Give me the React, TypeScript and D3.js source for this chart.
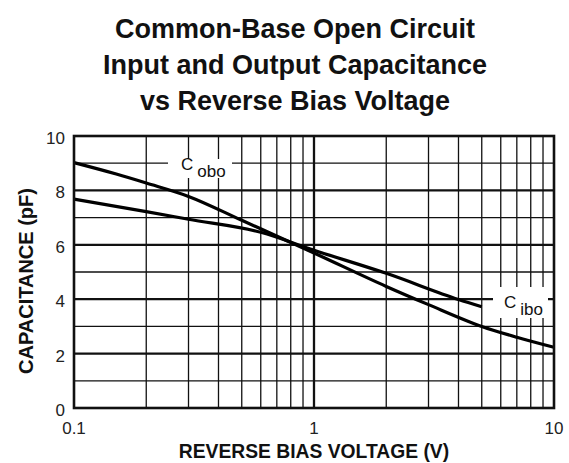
import React from "react";
import * as d3 from "d3";

const titleLines = ["Common-Base Open Circuit", "Input and Output Capacitance", "vs Reverse Bias Voltage"];
const xLabel = "REVERSE BIAS VOLTAGE (V)";
const yLabel = "CAPACITANCE (pF)";
const xTickLabels = [0.1, 1, 10];
const yTickLabels = [0, 2, 4, 6, 8, 10];

const coboV = [0.1, 0.15, 0.2, 0.3, 0.5, 1, 2, 3, 5, 7, 10];
const coboC = [9.02, 8.6, 8.27, 7.78, 6.9, 5.7, 4.47, 3.8, 3.0, 2.6, 2.23];
const ciboV = [0.1, 0.2, 0.3, 0.6, 1, 2, 4, 5];
const ciboC = [7.68, 7.22, 6.94, 6.46, 5.8, 4.95, 3.99, 3.72];

const W = 569, H = 463;
const L = 74, R = 554, T = 136, B = 408;

export default function App() {
  const x = d3.scaleLog().domain([0.1, 10]).range([L, R]);
  const y = d3.scaleLinear().domain([0, 10]).range([B, T]);
  const line = d3.line<[number, number]>().x(d => x(d[0])).y(d => y(d[1])).curve(d3.curveMonotoneX);
  const cobo = coboV.map((v, i) => [v, coboC[i]] as [number, number]);
  const cibo = ciboV.map((v, i) => [v, ciboC[i]] as [number, number]);

  const minorX: number[] = [];
  [0.1, 1].forEach(dec => { for (let k = 2; k <= 9; k++) minorX.push(dec * k); });
  const hY = d3.range(1, 10);

  const font = "'Liberation Sans', Arial, sans-serif";
  return (
    <svg width={W} height={H} style={{ display: "block", position: "absolute", left: 0, top: 0, background: "#fff" }} fontFamily={font}>
      <rect width={W} height={H} fill="#fff" />
      {titleLines.map((t, i) => (
        <text key={t} x={295} y={38 + i * 36} textAnchor="middle" fontSize={27} fontWeight="bold" fill="#111">{t}</text>
      ))}
      {minorX.map(v => (
        <line key={"vx" + v} x1={x(v)} x2={x(v)} y1={T} y2={B} stroke="#111" strokeWidth={1.3} />
      ))}
      <line x1={x(1)} x2={x(1)} y1={T} y2={B} stroke="#111" strokeWidth={2.3} />
      {hY.map(v => (
        <line key={"hy" + v} x1={L} x2={R} y1={y(v)} y2={y(v)} stroke="#111" strokeWidth={v % 2 === 0 ? 2.3 : 1.3} />
      ))}
      <rect x={168} y={159} width={64} height={19} fill="#fff" />
      <rect x={493} y={287} width={55} height={31} fill="#fff" />
      <path d={line(cobo) || ""} fill="none" stroke="#000" strokeWidth={3.2} />
      <path d={line(cibo) || ""} fill="none" stroke="#000" strokeWidth={3.2} />
      <rect x={L} y={T} width={R - L} height={B - T} fill="none" stroke="#111" strokeWidth={2.6} />
      <text x={181} y={170} fontSize={17} fill="#111">C<tspan fontSize={17} dx={4} dy={7}>obo</tspan></text>
      <text x={504} y={308} fontSize={17} fill="#111">C<tspan fontSize={17} dx={4} dy={7}>ibo</tspan></text>
      {yTickLabels.map(v => (
        <text key={"yt" + v} x={65} y={y(v) + 8} textAnchor="end" fontSize={17} fill="#222">{v}</text>
      ))}
      {xTickLabels.map(v => (
        <text key={"xt" + v} x={x(v)} y={434} textAnchor="middle" fontSize={17} fill="#222">{v}</text>
      ))}
      <text x={314} y={458} textAnchor="middle" fontSize={19.3} fontWeight="bold" fill="#111">{xLabel}</text>
      <text transform={`translate(33,281) rotate(-90)`} textAnchor="middle" fontSize={20} fontWeight="bold" fill="#111">{yLabel}</text>
    </svg>
  );
}
